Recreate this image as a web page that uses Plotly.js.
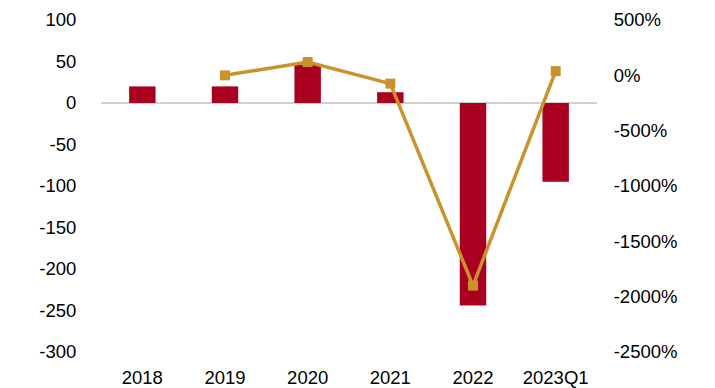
<!DOCTYPE html>
<html>
<head>
<meta charset="utf-8">
<script src="https://cdn.plot.ly/plotly-3.0.1.min.js"></script>
<style>html,body{margin:0;padding:0;background:#fff;}#chart{width:715px;height:388px;}</style>
</head>
<body>
<div id="chart"></div>
<script>
const categories = ["2018", "2019", "2020", "2021", "2022", "2023Q1"];
const barValues = [20, 20, 46, 13, -244, -95];
const lineCategories = ["2019", "2020", "2021", "2022", "2023Q1"];
const lineValues = [0, 120, -75, -1900, 38];
const leftTicks = [100, 50, 0, -50, -100, -150, -200, -250, -300];
const rightTicks = [500, 0, -500, -1000, -1500, -2000, -2500];

const font = {family: "Liberation Sans, Arial, sans-serif", size: 18.5, color: "#000"};

const traces = [
  {
    type: "bar", x: categories, y: barValues, yaxis: "y",
    width: 0.32, marker: {color: "#A8001E"}, hoverinfo: "skip"
  },
  {
    type: "scatter", mode: "lines+markers", x: lineCategories, y: lineValues, yaxis: "y2",
    line: {color: "#C9922C", width: 3.5},
    marker: {symbol: "square", size: 10, color: "#C9922C"}, hoverinfo: "skip"
  }
];

const layout = {
  width: 715, height: 388,
  margin: {l: 101, r: 118, t: 20, b: 36},
  paper_bgcolor: "#fff", plot_bgcolor: "#fff",
  showlegend: false,
  font: font,
  xaxis: {
    type: "category", categoryorder: "array", categoryarray: categories,
    showgrid: false, showline: false, zeroline: false,
    ticks: "outside", ticklen: 9, tickcolor: "rgba(0,0,0,0)",
    tickfont: font
  },
  yaxis: {
    range: [-300, 100], tickvals: leftTicks, ticktext: leftTicks.map(String),
    showgrid: false, showline: false,
    zeroline: true, zerolinecolor: "#D0D0D0", zerolinewidth: 1.5,
    ticks: "outside", ticklen: 20, tickcolor: "rgba(0,0,0,0)",
    tickfont: font
  },
  yaxis2: {
    overlaying: "y", side: "right",
    range: [-2500, 500], tickvals: rightTicks, ticktext: rightTicks.map(v => v + "%"),
    showgrid: false, showline: false, zeroline: false,
    ticks: "outside", ticklen: 12, tickcolor: "rgba(0,0,0,0)",
    tickfont: font
  }
};

Plotly.newPlot("chart", traces, layout, {staticPlot: true, displayModeBar: false});
</script>
</body>
</html>
